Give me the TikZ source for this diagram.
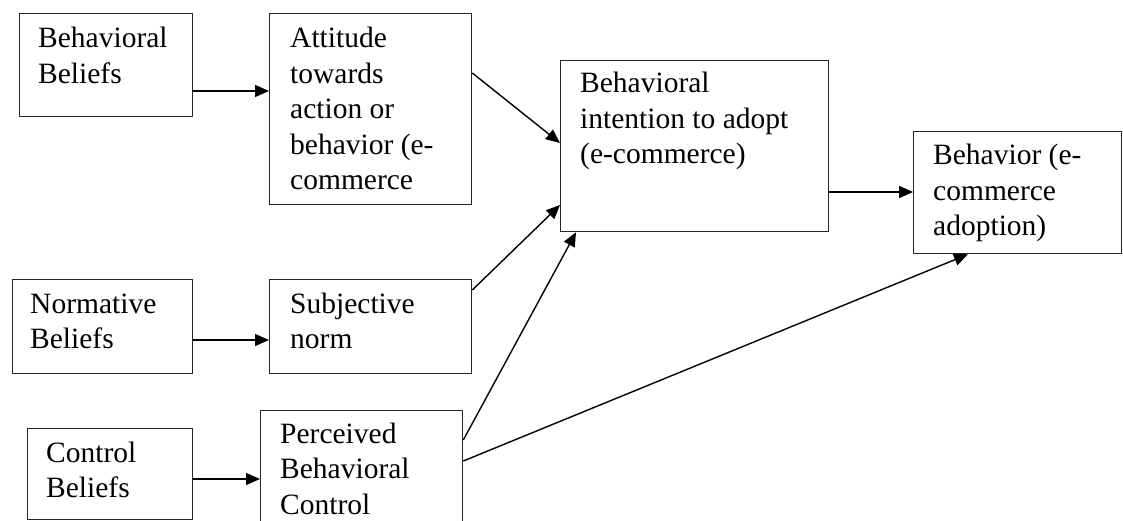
\documentclass[tikz,border=0pt]{standalone}
\usepackage{fontspec}
\setmainfont{Liberation Serif}
\usetikzlibrary{arrows.meta}
\newcommand{\lns}[1]{\vtop{#1}}
\tikzset{
  box/.style={draw=black!85, line width=1.3pt, rectangle, inner sep=0pt, anchor=north west},
  txt/.style={inner sep=0pt, anchor=base west, font=\fontsize{29.5}{35.5}\selectfont},
  arr/.style={draw=black, line width=1.4pt, -{Triangle[length=14pt,width=12pt]}}
}
\begin{document}
\begin{tikzpicture}[x=1pt,y=1pt]
\useasboundingbox (0,0) rectangle (1123,-521);
% boxes
\node[box, minimum width=173pt, minimum height=103pt] (bb)  at (19,-13) {};
\node[box, minimum width=202pt, minimum height=191pt] (att) at (269,-13) {};
\node[box, minimum width=268pt, minimum height=171pt] (bi)  at (560,-60) {};
\node[box, minimum width=208pt, minimum height=122pt] (beh) at (913,-131) {};
\node[box, minimum width=180pt, minimum height=94pt]  (nb)  at (12,-279) {};
\node[box, minimum width=202pt, minimum height=94pt]  (sn)  at (269,-279) {};
\node[box, minimum width=165pt, minimum height=91pt]  (cb)  at (27,-428) {};
\node[box, minimum width=202pt, minimum height=140pt] (pbc) at (260,-410) {};
% texts
\node[txt] (bbt)  at (38,-48)   {\lns{\hbox{Behavioral}\hbox{Beliefs}}};
\node[txt] (attt) at (290,-48)  {\lns{\hbox{Attitude}\hbox{towards}\hbox{action or}\hbox{behavior (e-}\hbox{commerce}}};
\node[txt] (bit)  at (580,-93)  {\lns{\hbox{Behavioral}\hbox{intention to adopt}\hbox{(e-commerce)}}};
\node[txt] (beht) at (933,-165) {\lns{\hbox{Behavior (e-}\hbox{commerce}\hbox{adoption)}}};
\node[txt] (nbt)  at (30,-313)  {\lns{\hbox{Normative}\hbox{Beliefs}}};
\node[txt] (snt)  at (290,-313) {\lns{\hbox{Subjective}\hbox{norm}}};
\node[txt] (cbt)  at (46,-462)  {\lns{\hbox{Control}\hbox{Beliefs}}};
\node[txt] (pbct) at (280,-443) {\lns{\hbox{Perceived}\hbox{Behavioral}\hbox{Control}}};
% connectors
\draw[arr] (bb.east |- 0,-91) -- (att.west |- 0,-91);
\draw[arr] (nb.east |- 0,-340) -- (sn.west |- 0,-340);
\draw[arr] (cb.east |- 0,-479) -- (pbc.west |- 0,-479);
\draw[arr] (att.east |- 0,-73) -- (bi.west |- 0,-143);
\draw[arr] (sn.east |- 0,-290) -- (bi.west |- 0,-205);
\draw[arr] (pbc.east |- 0,-440) -- ([xshift=16pt]bi.south west);
\draw[arr] (pbc.east |- 0,-461) -- ([xshift=55pt]beh.south west);
\draw[arr] (bi.east |- 0,-192) -- (beh.west |- 0,-192);
\end{tikzpicture}
\end{document}
